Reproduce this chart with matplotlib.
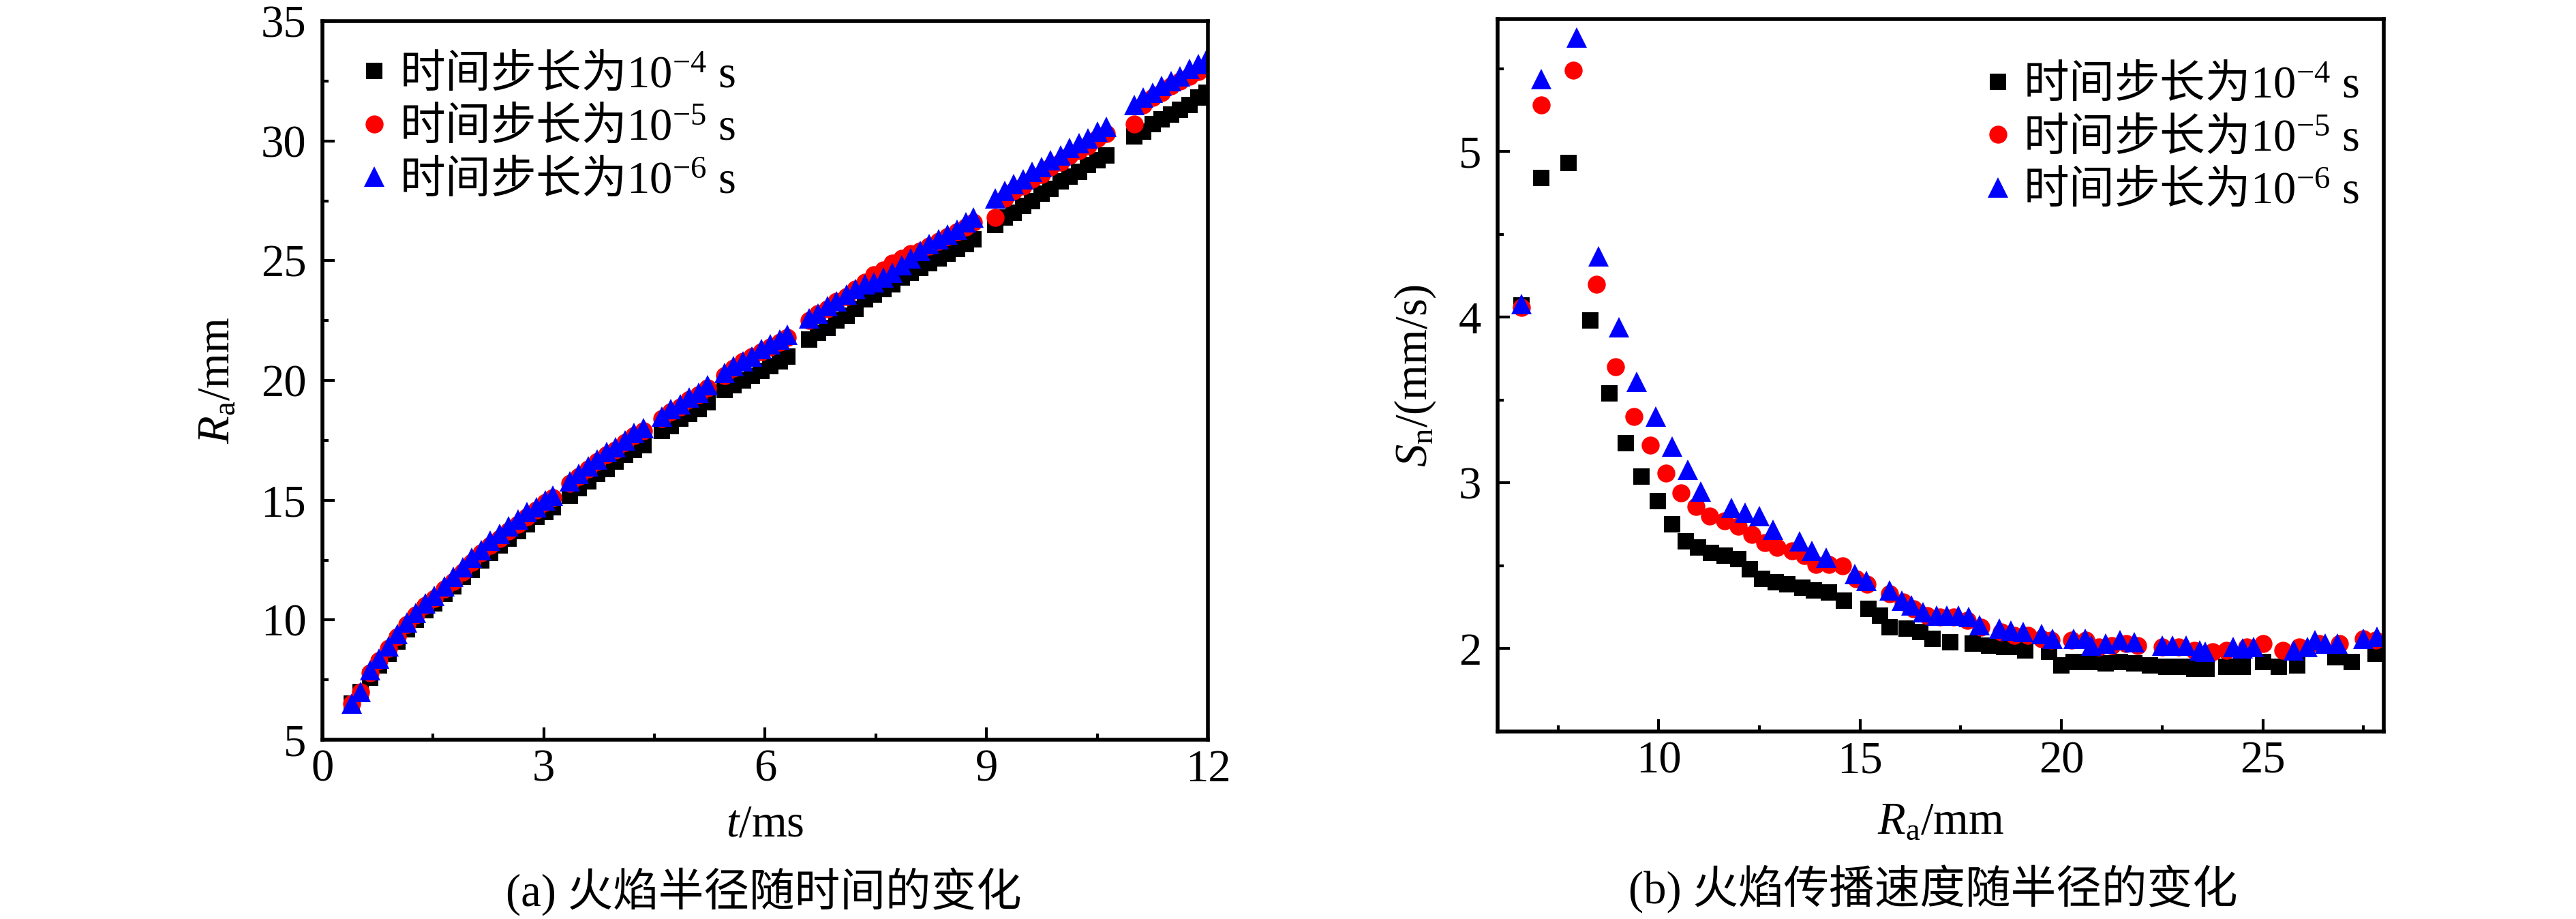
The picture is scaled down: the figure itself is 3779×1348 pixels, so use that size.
import matplotlib
matplotlib.use("Agg")
import matplotlib.pyplot as plt
from matplotlib.ticker import MultipleLocator

plt.rcParams['font.family'] = ['Liberation Serif', 'Noto Sans CJK SC', 'DejaVu Serif']
plt.rcParams['mathtext.fontset'] = 'custom'
plt.rcParams['mathtext.rm'] = 'Liberation Serif'
plt.rcParams['mathtext.it'] = 'Liberation Serif:italic'
plt.rcParams['mathtext.bf'] = 'Liberation Serif:bold'

# ---- (a) flame radius vs time ----
t_ms = [0.40, 0.52, 0.65, 0.77, 0.90, 1.02, 1.15, 1.27, 1.40, 1.52, 1.65, 1.77,
        1.90, 2.02, 2.15, 2.27, 2.40, 2.52, 2.65, 2.77, 2.90, 3.02, 3.12,
        3.35, 3.47, 3.60, 3.72, 3.85, 3.97, 4.10, 4.22, 4.35,
        4.60, 4.72, 4.85, 4.97, 5.10, 5.22,
        5.45, 5.57, 5.70, 5.82, 5.95, 6.07, 6.20, 6.30,
        6.60, 6.72, 6.85, 6.97, 7.10, 7.22,
        7.35, 7.47, 7.60, 7.72, 7.85, 7.97, 8.10, 8.22, 8.35, 8.47, 8.60, 8.72, 8.82,
        9.12, 9.25, 9.37, 9.50, 9.62, 9.75, 9.87, 10.00, 10.12, 10.25, 10.37, 10.50, 10.62,
        11.00, 11.12, 11.25, 11.37, 11.50, 11.62, 11.75, 11.87, 11.98]

ra_dt4 = [6.5, 7.0, 7.6, 8.1, 8.6, 9.1, 9.6, 10.0, 10.4, 10.7, 11.1, 11.4,
          11.8, 12.1, 12.5, 12.8, 13.1, 13.4, 13.7, 14.0, 14.3, 14.5, 14.7,
          15.2, 15.5, 15.8, 16.1, 16.3, 16.6, 16.9, 17.1, 17.3,
          17.9, 18.1, 18.4, 18.6, 18.8, 19.1,
          19.6, 19.8, 20.0, 20.2, 20.4, 20.6, 20.8, 21.0,
          21.7, 22.0, 22.2, 22.5, 22.7, 23.0,
          23.4, 23.6, 23.8, 24.0, 24.3, 24.5, 24.7, 24.9, 25.1, 25.3, 25.5, 25.7, 25.9,
          26.5, 26.8, 27.0, 27.3, 27.5, 27.8, 28.0, 28.3, 28.5, 28.7, 29.0, 29.2, 29.4,
          30.2, 30.4, 30.7, 30.9, 31.1, 31.3, 31.5, 31.8, 32.0]

ra_dt5 = [6.5, 7.0, 7.8, 8.3, 8.8, 9.3, 9.8, 10.2, 10.6, 10.9, 11.3, 11.6,
          12.0, 12.4, 12.8, 13.1, 13.4, 13.7, 14.0, 14.3, 14.6, 14.9, 15.1,
          15.7, 16.0, 16.3, 16.6, 16.9, 17.1, 17.4, 17.7, 17.9,
          18.4, 18.7, 18.9, 19.2, 19.4, 19.7,
          20.2, 20.5, 20.8, 21.0, 21.2, 21.4, 21.6, 21.8,
          22.5, 22.8, 23.0, 23.3, 23.5, 23.8,
          24.1, 24.4, 24.6, 24.9, 25.1, 25.3, 25.4, 25.6, 25.8, 26.0, 26.2, 26.4, 26.6,
          26.8, 27.6, 27.9, 28.1, 28.4, 28.6, 28.9, 29.1, 29.4, 29.6, 29.8, 30.1, 30.3,
          30.7, 31.5, 31.8, 32.0, 32.3, 32.5, 32.7, 32.9, 33.1]

ra_dt6 = [6.5, 7.0, 7.9, 8.4, 8.9, 9.4, 9.9, 10.3, 10.7, 11.0, 11.4, 11.8,
          12.2, 12.6, 12.9, 13.3, 13.6, 13.9, 14.2, 14.5, 14.7, 15.0, 15.2,
          15.8, 16.1, 16.4, 16.7, 17.0, 17.2, 17.5, 17.8, 18.0,
          18.5, 18.8, 19.0, 19.3, 19.5, 19.8,
          20.3, 20.6, 20.8, 21.0, 21.3, 21.5, 21.7, 21.9,
          22.6, 22.8, 23.1, 23.3, 23.6, 23.8,
          24.0, 24.1, 24.3, 24.5, 24.8, 25.1, 25.4, 25.7, 25.9, 26.1, 26.3, 26.6, 26.8,
          27.6, 27.9, 28.2, 28.4, 28.7, 28.9, 29.2, 29.4, 29.7, 29.9, 30.1, 30.4, 30.6,
          31.5, 31.8, 32.0, 32.3, 32.5, 32.7, 33.0, 33.2, 33.4]

# ---- (b) propagation speed vs radius ----
rb_dt4 = [6.59, 7.09, 7.76, 8.31, 8.78, 9.18, 9.58, 9.97, 10.33, 10.67, 10.97, 11.30,
          11.64, 11.97, 12.26, 12.56, 12.90, 13.20, 13.56, 13.86, 14.23, 14.60,
          15.20, 15.50, 15.74, 16.15, 16.50, 16.80, 17.24, 17.80, 18.20, 18.58,
          18.80, 19.10, 19.70, 20.00, 20.30, 20.70, 21.10, 21.45, 21.80, 22.20,
          22.60, 23.00, 23.30, 23.60, 24.10, 24.50, 25.00, 25.40, 25.85, 26.80,
          27.20, 27.80]
sn_dt4 = [4.07, 4.84, 4.93, 3.98, 3.54, 3.24, 3.04, 2.89, 2.75, 2.65, 2.61, 2.58,
          2.56, 2.54, 2.48, 2.42, 2.40, 2.39, 2.37, 2.35, 2.34, 2.29,
          2.24, 2.20, 2.13, 2.12, 2.10, 2.06, 2.04, 2.03, 2.02, 2.01,
          2.01, 1.99, 1.98, 1.90, 1.92, 1.92, 1.91, 1.92, 1.91, 1.90,
          1.89, 1.89, 1.88, 1.88, 1.89, 1.89, 1.92, 1.89, 1.90, 1.95,
          1.92, 1.97]

rb_dt5 = [6.59, 7.09, 7.88, 8.46, 8.93, 9.38, 9.80, 10.18, 10.55, 10.92, 11.27, 11.64,
          11.97, 12.31, 12.64, 12.94, 13.31, 13.61, 13.90, 14.23, 14.57, 14.90,
          15.18, 15.74, 16.07, 16.32, 16.66, 16.99, 17.32, 17.66, 18.00, 18.50,
          18.83, 19.16, 19.50, 19.75, 20.25, 20.60, 20.92, 21.25, 21.60, 21.90,
          22.50, 22.90, 23.30, 23.76, 24.10, 24.60, 25.00, 25.50, 25.90, 26.40,
          26.90, 27.50, 27.80]
sn_dt5 = [4.06, 5.28, 5.49, 4.20, 3.70, 3.40, 3.23, 3.06, 2.94, 2.86, 2.80, 2.77,
          2.74, 2.69, 2.64, 2.61, 2.59, 2.56, 2.51, 2.51, 2.50, 2.42,
          2.39, 2.33, 2.28, 2.24, 2.20, 2.19, 2.19, 2.17, 2.13, 2.10,
          2.08, 2.08, 2.06, 2.05, 2.05, 2.05, 2.01, 2.02, 2.03, 2.02,
          2.01, 2.01, 1.99, 1.98, 1.99, 2.01, 2.03, 1.99, 2.01, 2.03,
          2.03, 2.06, 2.05]

rb_dt6 = [6.59, 7.09, 7.96, 8.51, 9.01, 9.46, 9.92, 10.33, 10.72, 11.05, 11.80, 12.14,
          12.50, 12.84, 13.50, 13.80, 14.15, 14.87, 15.15, 15.74, 16.04, 16.27,
          16.57, 16.90, 17.16, 17.44, 17.70, 17.96, 18.46, 18.75, 19.05, 19.50,
          19.78, 20.30, 20.59, 20.75, 21.09, 21.45, 21.80, 22.50, 22.76, 23.10,
          23.43, 23.56, 24.26, 24.50, 24.77, 25.77, 26.10, 26.30, 26.55, 26.85,
          27.50, 27.83]
sn_dt6 = [4.08, 5.44, 5.69, 4.37, 3.94, 3.61, 3.40, 3.22, 3.08, 2.95, 2.85, 2.82,
          2.80, 2.72, 2.65, 2.59, 2.55, 2.45, 2.41, 2.35, 2.29, 2.26,
          2.22, 2.20, 2.20, 2.20, 2.19, 2.14, 2.12, 2.11, 2.10, 2.09,
          2.06, 2.06, 2.06, 2.02, 2.03, 2.05, 2.04, 2.02, 2.02, 2.02,
          1.99, 1.98, 2.01, 2.00, 2.01, 1.99, 2.01, 2.05, 2.03, 2.03,
          2.06, 2.07]

labels = ["时间步长为$10^{-4}\\ \\mathrm{s}$",
          "时间步长为$10^{-5}\\ \\mathrm{s}$",
          "时间步长为$10^{-6}\\ \\mathrm{s}$"]

FS = 48
fig = plt.figure(figsize=(37.8, 13.48), dpi=100)
ax1 = fig.add_axes([0.1251, 0.1951, 0.3437, 0.7819])
ax2 = fig.add_axes([0.5812, 0.2040, 0.3439, 0.7752])


def style_markers(ax, xs, ys):
    ax.plot(xs[0], ys[0], ls='none', marker='s', ms=17.5, color='black', mew=0, label=labels[0])
    ax.plot(xs[1], ys[1], ls='none', marker='o', ms=19, color='red', mew=0, label=labels[1])
    ax.plot(xs[2], ys[2], ls='none', marker='^', ms=21, color='blue', mew=0, label=labels[2])


style_markers(ax1, [t_ms, t_ms, t_ms], [ra_dt4, ra_dt5, ra_dt6])
style_markers(ax2, [rb_dt4, rb_dt5, rb_dt6], [sn_dt4, sn_dt5, sn_dt6])

ax1.set_xlim(0, 12)
ax1.set_ylim(5, 35)
ax1.xaxis.set_major_locator(MultipleLocator(3))
ax1.xaxis.set_minor_locator(MultipleLocator(1.5))
ax1.yaxis.set_major_locator(MultipleLocator(5))
ax1.yaxis.set_minor_locator(MultipleLocator(2.5))

ax2.set_xlim(6, 28)
ax2.set_ylim(1.5, 5.8)
ax2.xaxis.set_major_locator(MultipleLocator(5))
ax2.xaxis.set_minor_locator(MultipleLocator(2.5))
ax2.yaxis.set_major_locator(MultipleLocator(1))
ax2.yaxis.set_minor_locator(MultipleLocator(0.5))

for ax in (ax1, ax2):
    for sp in ax.spines.values():
        sp.set_linewidth(4)
    ax.tick_params(which='both', direction='in', labelsize=FS)
    ax.tick_params(which='major', length=13, width=3)
    ax.tick_params(which='minor', length=6.5, width=3)
    ax.tick_params(axis='x', pad=10)
    ax.tick_params(axis='y', pad=17)

ax1.set_xlabel("$t$/ms", fontsize=FS)
ax1.set_ylabel("$R_\\mathrm{a}$/mm", fontsize=FS)
ax1.xaxis.set_label_coords(0.5, -0.09)
ax1.yaxis.set_label_coords(-0.095, 0.5)

ax2.set_xlabel("$R_\\mathrm{a}$/mm", fontsize=FS)
ax2.set_ylabel("$S_\\mathrm{n}$/(mm/s)", fontsize=FS)
ax2.xaxis.set_label_coords(0.5, -0.098)
ax2.yaxis.set_label_coords(-0.068, 0.5)

leg_kw = dict(loc='upper left', frameon=False, borderpad=0, borderaxespad=0,
              handlelength=0.5, handletextpad=0.3, labelspacing=0.15,
              prop={'family': 'Noto Sans CJK SC', 'size': FS})
ax1.legend(bbox_to_anchor=(0.046, 0.958), **leg_kw)
ax2.legend(bbox_to_anchor=(0.552, 0.94), **leg_kw)

cap_font = ['Liberation Serif', 'Noto Sans CJK SC']
fig.text(0.2963, 0.029, "(a) 火焰半径随时间的变化", ha='center', va='center',
         fontsize=FS, family=cap_font)
fig.text(0.7503, 0.032, "(b) 火焰传播速度随半径的变化", ha='center', va='center',
         fontsize=FS, family=cap_font)

fig.savefig("out.png", dpi=100)
